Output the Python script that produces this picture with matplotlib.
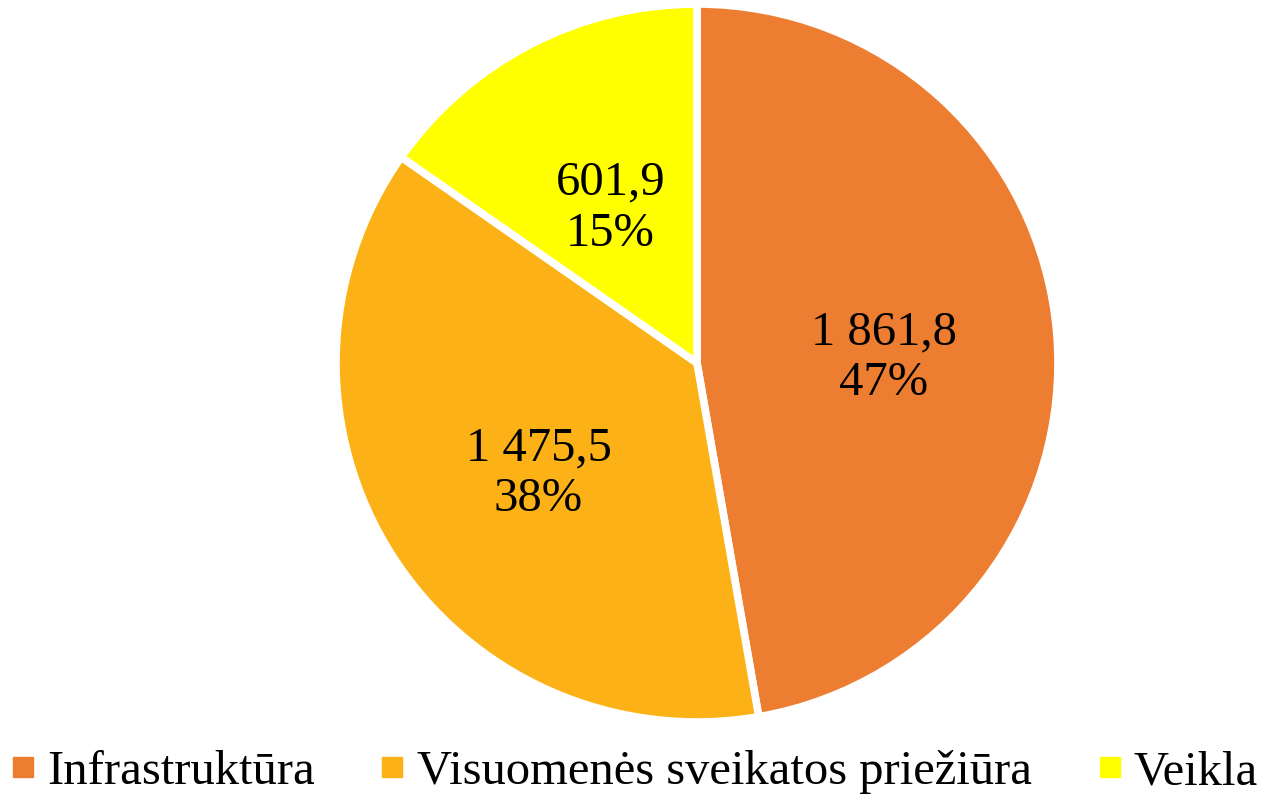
import numpy as np
import matplotlib.pyplot as plt
from matplotlib.lines import Line2D

categories = ["Infrastruktūra", "Visuomenės sveikatos priežiūra", "Veikla"]
values = [1861.8, 1475.5, 601.9]
value_labels = ["1 861,8", "1 475,5", "601,9"]
shares = [47, 38, 15]
colors = ["#ED7D31", "#FCB216", "#FFFF00"]

plt.rcParams["font.family"] = ["Liberation Serif", "DejaVu Serif"]

fig = plt.figure(figsize=(12.71, 7.98), dpi=100)
W, H = 1271, 798
cx, cy = 697, 435
rx, ry = 361, 359
ax = fig.add_axes([(cx - rx) / W, (cy - ry) / H, 2 * rx / W, 2 * ry / H])

wedges, texts = ax.pie(
    values, colors=colors, startangle=90, counterclock=False,
    wedgeprops=dict(edgecolor="white", linewidth=5.5),
)
ax.set_xlim(-1, 1)
ax.set_ylim(-1, 1)
ax.set_aspect("auto")
ax.axis("off")

# value and share written inside each slice
for w, v, s in zip(wedges, value_labels, shares):
    ang = np.deg2rad((w.theta1 + w.theta2) / 2)
    d = 0.52
    ax.text(d * np.cos(ang), d * np.sin(ang) - 0.03, f"{v}\n{s}%",
            ha="center", va="center", fontsize=35, linespacing=1.2)

handles = [Line2D([], [], marker="s", linestyle="none", markersize=14.5,
                  markerfacecolor=c, markeredgecolor=c) for c in colors]
fig.legend(handles, categories, loc="lower center", bbox_to_anchor=(0.5, -0.05),
           ncol=3, frameon=False, fontsize=35, handletextpad=0.3,
           columnspacing=1.4, handlelength=0.4)

fig.savefig("out.png", dpi=100)
